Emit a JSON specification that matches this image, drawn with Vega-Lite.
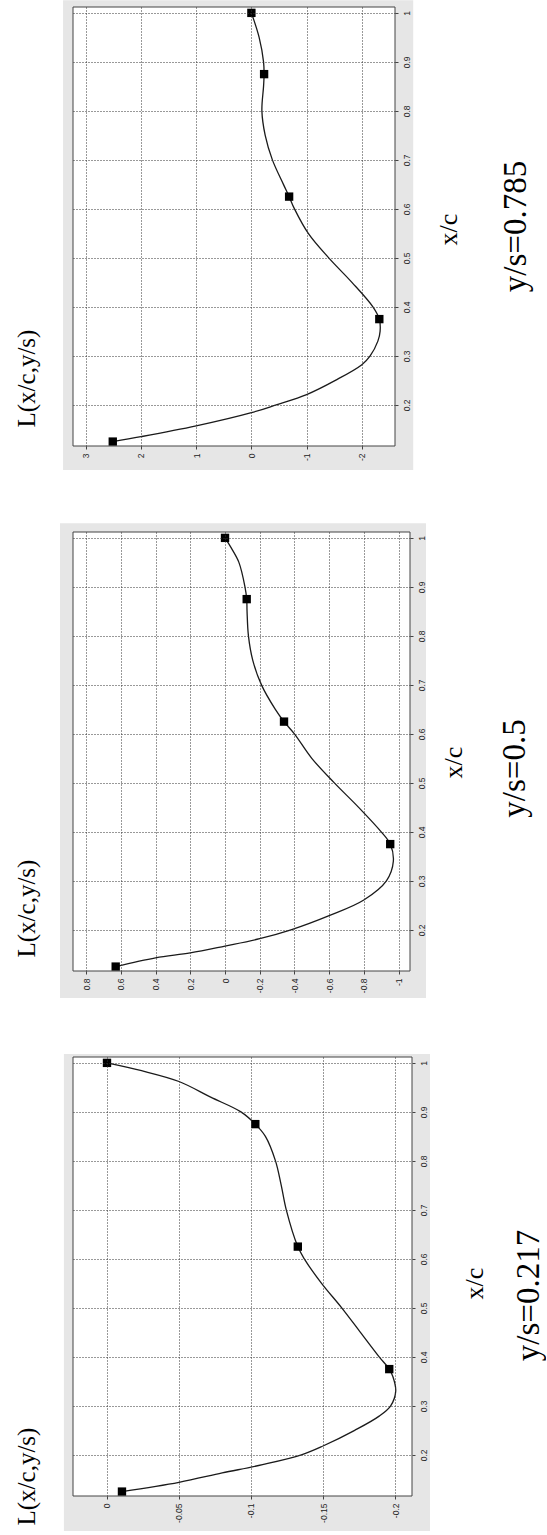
{
  "$schema": "https://vega.github.io/schema/vega-lite/v6.json",
  "background": "white",
  "padding": {"left": 14, "top": 0, "right": 0, "bottom": 0},
  "bounds": "flush",
  "spacing": 86,
  "config": {"view": {"stroke": null}, "font": "Liberation Sans"},
  "datasets": {
    "p785": [
      {"xc": 0.125, "L": 2.51, "m": true},
      {"xc": 0.135, "L": 2.0, "m": false},
      {"xc": 0.157, "L": 1.0, "m": false},
      {"xc": 0.184, "L": 0.0, "m": false},
      {"xc": 0.2, "L": -0.45, "m": false},
      {"xc": 0.221, "L": -1.0, "m": false},
      {"xc": 0.25, "L": -1.52, "m": false},
      {"xc": 0.282, "L": -2.0, "m": false},
      {"xc": 0.3, "L": -2.15, "m": false},
      {"xc": 0.33, "L": -2.29, "m": false},
      {"xc": 0.35, "L": -2.33, "m": false},
      {"xc": 0.375, "L": -2.316, "m": true},
      {"xc": 0.4, "L": -2.2, "m": false},
      {"xc": 0.45, "L": -1.82, "m": false},
      {"xc": 0.5, "L": -1.4, "m": false},
      {"xc": 0.55, "L": -1.03, "m": false},
      {"xc": 0.6, "L": -0.78, "m": false},
      {"xc": 0.625, "L": -0.683, "m": true},
      {"xc": 0.65, "L": -0.58, "m": false},
      {"xc": 0.7, "L": -0.38, "m": false},
      {"xc": 0.75, "L": -0.25, "m": false},
      {"xc": 0.8, "L": -0.19, "m": false},
      {"xc": 0.85, "L": -0.22, "m": false},
      {"xc": 0.875, "L": -0.23, "m": true},
      {"xc": 0.9, "L": -0.22, "m": false},
      {"xc": 0.95, "L": -0.14, "m": false},
      {"xc": 1.0, "L": 0.0, "m": true}
    ],
    "p500": [
      {"xc": 0.125, "L": 0.63, "m": true},
      {"xc": 0.143, "L": 0.4, "m": false},
      {"xc": 0.153, "L": 0.2, "m": false},
      {"xc": 0.167, "L": 0.0, "m": false},
      {"xc": 0.182, "L": -0.2, "m": false},
      {"xc": 0.2, "L": -0.38, "m": false},
      {"xc": 0.229, "L": -0.6, "m": false},
      {"xc": 0.261, "L": -0.8, "m": false},
      {"xc": 0.3, "L": -0.93, "m": false},
      {"xc": 0.34, "L": -0.97, "m": false},
      {"xc": 0.375, "L": -0.952, "m": true},
      {"xc": 0.4, "L": -0.9, "m": false},
      {"xc": 0.45, "L": -0.77, "m": false},
      {"xc": 0.5, "L": -0.63, "m": false},
      {"xc": 0.55, "L": -0.5, "m": false},
      {"xc": 0.6, "L": -0.4, "m": false},
      {"xc": 0.625, "L": -0.34, "m": true},
      {"xc": 0.65, "L": -0.29, "m": false},
      {"xc": 0.7, "L": -0.21, "m": false},
      {"xc": 0.75, "L": -0.16, "m": false},
      {"xc": 0.8, "L": -0.135, "m": false},
      {"xc": 0.85, "L": -0.127, "m": false},
      {"xc": 0.875, "L": -0.125, "m": true},
      {"xc": 0.9, "L": -0.115, "m": false},
      {"xc": 0.95, "L": -0.08, "m": false},
      {"xc": 0.98, "L": -0.035, "m": false},
      {"xc": 1.0, "L": 0.0, "m": true}
    ],
    "p217": [
      {"xc": 0.125, "L": -0.0104, "m": true},
      {"xc": 0.144, "L": -0.05, "m": false},
      {"xc": 0.163, "L": -0.08, "m": false},
      {"xc": 0.18, "L": -0.108, "m": false},
      {"xc": 0.2, "L": -0.135, "m": false},
      {"xc": 0.218, "L": -0.15, "m": false},
      {"xc": 0.25, "L": -0.172, "m": false},
      {"xc": 0.279, "L": -0.189, "m": false},
      {"xc": 0.3, "L": -0.197, "m": false},
      {"xc": 0.33, "L": -0.2005, "m": false},
      {"xc": 0.36, "L": -0.1985, "m": false},
      {"xc": 0.375, "L": -0.196, "m": true},
      {"xc": 0.4, "L": -0.189, "m": false},
      {"xc": 0.45, "L": -0.176, "m": false},
      {"xc": 0.5, "L": -0.163, "m": false},
      {"xc": 0.55, "L": -0.149, "m": false},
      {"xc": 0.6, "L": -0.137, "m": false},
      {"xc": 0.625, "L": -0.1325, "m": true},
      {"xc": 0.7, "L": -0.1245, "m": false},
      {"xc": 0.75, "L": -0.121, "m": false},
      {"xc": 0.8, "L": -0.117, "m": false},
      {"xc": 0.85, "L": -0.11, "m": false},
      {"xc": 0.875, "L": -0.103, "m": true},
      {"xc": 0.9, "L": -0.093, "m": false},
      {"xc": 0.93, "L": -0.072, "m": false},
      {"xc": 0.962, "L": -0.05, "m": false},
      {"xc": 0.984, "L": -0.024, "m": false},
      {"xc": 1.0, "L": 0.0, "m": true}
    ]
  },
  "vconcat": [
    {
      "width": 322, "height": 439,
      "title": {"text": "y/s=0.785", "orient": "right", "angle": 270, "anchor": "middle", "frame": "group", "baseline": "top", "font": "Liberation Serif", "fontSize": 33, "fontWeight": "normal", "color": "#000", "offset": 6, "dx": 0},
      "resolve": {"axis": {"y": "independent"}},
      "layer": [
        {
          "data": {"values": [{}]},
          "mark": {"type": "rect", "color": "#e6e6e6"},
          "encoding": {
            "x": {"datum": 3.41, "type": "quantitative", "scale": {"domain": [-2.6, 3.23], "reverse": true, "nice": false, "zero": false},
              "axis": {"orient": "bottom", "values": [3, 2, 1, 0, -1, -2], "tickCount": 30, "labelExpr": "'' + datum.value", "labelOverlap": false, "labelBound": false, "labelAngle": 270, "labelAlign": "right", "labelBaseline": "middle", "labelFontSize": 8.5, "labelColor": "#222", "labelPadding": 4, "tickSize": 3, "tickColor": "#444", "domain": false, "grid": true, "gridColor": "#333", "gridDash": [1, 2], "gridWidth": 1, "title": null, "zindex": 1}},
            "x2": {"datum": -2.93},
            "y": {"datum": 1.026, "type": "quantitative", "scale": {"domain": [0.116, 1.012], "nice": false, "zero": false},
              "axis": {"orient": "right", "values": [0.2, 0.3, 0.4, 0.5, 0.6, 0.7, 0.8, 0.9, 1], "tickCount": 30, "labelExpr": "'' + datum.value", "labelOverlap": false, "labelBound": false, "labelAngle": 270, "labelAlign": "center", "labelBaseline": "top", "labelFontSize": 8.5, "labelColor": "#222", "labelPadding": 4, "tickSize": 3, "tickColor": "#444", "domain": false, "grid": true, "gridColor": "#333", "gridDash": [1, 2], "gridWidth": 1, "title": "x/c", "titleFont": "Liberation Serif", "titleFontSize": 26, "titleFontWeight": "normal", "titleColor": "#000", "titleAngle": 270, "titleAlign": "center", "titleBaseline": "alphabetic", "titleX": 61, "titleY": 222, "zindex": 1}},
            "y2": {"datum": 0.067}
          }
        },
        {
          "data": {"values": [{}]},
          "mark": {"type": "rect", "color": "white"},
          "encoding": {
            "x": {"datum": 3.23, "type": "quantitative"},
            "x2": {"datum": -2.6},
            "y": {"datum": 1.012, "type": "quantitative",
              "axis": {"orient": "left", "labels": false, "ticks": false, "domain": false, "grid": false, "title": "L(x/c,y/s)", "titleFont": "Liberation Serif", "titleFontSize": 25, "titleFontWeight": "normal", "titleColor": "#000", "titleAngle": 270, "titleAlign": "left", "titleBaseline": "alphabetic", "titleX": -39, "titleY": 420}},
            "y2": {"datum": 0.116}
          }
        },
        {
          "data": {"name": "p785"},
          "mark": {"type": "line", "color": "#1a1a1a", "strokeWidth": 1.3, "interpolate": "catmull-rom"},
          "encoding": {
            "x": {"field": "L", "type": "quantitative"},
            "y": {"field": "xc", "type": "quantitative", "axis": null},
            "order": {"field": "xc", "type": "quantitative"}
          }
        },
        {
          "data": {"name": "p785"},
          "transform": [{"filter": "datum.m"}],
          "mark": {"type": "square", "color": "#000", "size": 70, "opacity": 1},
          "encoding": {
            "x": {"field": "L", "type": "quantitative"},
            "y": {"field": "xc", "type": "quantitative", "axis": null}
          }
        },
        {
          "data": {"values": [{}]},
          "mark": {"type": "rect", "filled": false, "stroke": "#444", "strokeWidth": 1},
          "encoding": {
            "x": {"datum": 3.23, "type": "quantitative"},
            "x2": {"datum": -2.6},
            "y": {"datum": 1.012, "type": "quantitative", "axis": null},
            "y2": {"datum": 0.116}
          }
        }
      ]
    },
    {
      "width": 337, "height": 439,
      "title": {"text": "y/s=0.5", "orient": "right", "angle": 270, "anchor": "middle", "frame": "group", "baseline": "top", "font": "Liberation Serif", "fontSize": 33, "fontWeight": "normal", "color": "#000", "offset": 0, "dx": -17},
      "resolve": {"axis": {"y": "independent"}},
      "layer": [
        {
          "data": {"values": [{}]},
          "mark": {"type": "rect", "color": "#e6e6e6"},
          "encoding": {
            "x": {"datum": 0.951, "type": "quantitative", "scale": {"domain": [-1.066, 0.876], "reverse": true, "nice": false, "zero": false},
              "axis": {"orient": "bottom", "values": [0.8, 0.6, 0.4, 0.2, 0, -0.2, -0.4, -0.6, -0.8, -1], "tickCount": 30, "labelExpr": "'' + datum.value", "labelOverlap": false, "labelBound": false, "labelAngle": 270, "labelAlign": "right", "labelBaseline": "middle", "labelFontSize": 8.5, "labelColor": "#222", "labelPadding": 4, "tickSize": 3, "tickColor": "#444", "domain": false, "grid": true, "gridColor": "#333", "gridDash": [1, 2], "gridWidth": 1, "title": null, "zindex": 1}},
            "x2": {"datum": -1.158},
            "y": {"datum": 1.03, "type": "quantitative", "scale": {"domain": [0.116, 1.012], "nice": false, "zero": false},
              "axis": {"orient": "right", "values": [0.2, 0.3, 0.4, 0.5, 0.6, 0.7, 0.8, 0.9, 1], "tickCount": 30, "labelExpr": "'' + datum.value", "labelOverlap": false, "labelBound": false, "labelAngle": 270, "labelAlign": "center", "labelBaseline": "top", "labelFontSize": 8.5, "labelColor": "#222", "labelPadding": 4, "tickSize": 3, "tickColor": "#444", "domain": false, "grid": true, "gridColor": "#333", "gridDash": [1, 2], "gridWidth": 1, "title": "x/c", "titleFont": "Liberation Serif", "titleFontSize": 26, "titleFontWeight": "normal", "titleColor": "#000", "titleAngle": 270, "titleAlign": "center", "titleBaseline": "alphabetic", "titleX": 51, "titleY": 230, "zindex": 1}},
            "y2": {"datum": 0.061}
          }
        },
        {
          "data": {"values": [{}]},
          "mark": {"type": "rect", "color": "white"},
          "encoding": {
            "x": {"datum": 0.876, "type": "quantitative"},
            "x2": {"datum": -1.066},
            "y": {"datum": 1.012, "type": "quantitative",
              "axis": {"orient": "left", "labels": false, "ticks": false, "domain": false, "grid": false, "title": "L(x/c,y/s)", "titleFont": "Liberation Serif", "titleFontSize": 25, "titleFontWeight": "normal", "titleColor": "#000", "titleAngle": 270, "titleAlign": "left", "titleBaseline": "alphabetic", "titleX": -39, "titleY": 425}},
            "y2": {"datum": 0.116}
          }
        },
        {
          "data": {"name": "p500"},
          "mark": {"type": "line", "color": "#1a1a1a", "strokeWidth": 1.3, "interpolate": "catmull-rom"},
          "encoding": {
            "x": {"field": "L", "type": "quantitative"},
            "y": {"field": "xc", "type": "quantitative", "axis": null},
            "order": {"field": "xc", "type": "quantitative"}
          }
        },
        {
          "data": {"name": "p500"},
          "transform": [{"filter": "datum.m"}],
          "mark": {"type": "square", "color": "#000", "size": 70, "opacity": 1},
          "encoding": {
            "x": {"field": "L", "type": "quantitative"},
            "y": {"field": "xc", "type": "quantitative", "axis": null}
          }
        },
        {
          "data": {"values": [{}]},
          "mark": {"type": "rect", "filled": false, "stroke": "#444", "strokeWidth": 1},
          "encoding": {
            "x": {"datum": 0.876, "type": "quantitative"},
            "x2": {"datum": -1.066},
            "y": {"datum": 1.012, "type": "quantitative", "axis": null},
            "y2": {"datum": 0.116}
          }
        }
      ]
    },
    {
      "width": 339, "height": 439,
      "title": {"text": "y/s=0.217", "orient": "right", "angle": 270, "anchor": "middle", "frame": "group", "baseline": "top", "font": "Liberation Serif", "fontSize": 33, "fontWeight": "normal", "color": "#000", "offset": -7, "dx": -19},
      "resolve": {"axis": {"y": "independent"}},
      "layer": [
        {
          "data": {"values": [{}]},
          "mark": {"type": "rect", "color": "#e6e6e6"},
          "encoding": {
            "x": {"datum": 0.0299, "type": "quantitative", "scale": {"domain": [-0.2118, 0.0236], "reverse": true, "nice": false, "zero": false},
              "axis": {"orient": "bottom", "values": [0, -0.05, -0.1, -0.15, -0.2], "tickCount": 30, "labelExpr": "'' + datum.value", "labelOverlap": false, "labelBound": false, "labelAngle": 270, "labelAlign": "right", "labelBaseline": "middle", "labelFontSize": 8.5, "labelColor": "#222", "labelPadding": 4, "tickSize": 3, "tickColor": "#444", "domain": false, "grid": true, "gridColor": "#333", "gridDash": [1, 2], "gridWidth": 1, "title": null, "zindex": 1}},
            "x2": {"datum": -0.2243},
            "y": {"datum": 1.018, "type": "quantitative", "scale": {"domain": [0.116, 1.012], "nice": false, "zero": false},
              "axis": {"orient": "right", "values": [0.2, 0.3, 0.4, 0.5, 0.6, 0.7, 0.8, 0.9, 1], "tickCount": 30, "labelExpr": "'' + datum.value", "labelOverlap": false, "labelBound": false, "labelAngle": 270, "labelAlign": "center", "labelBaseline": "top", "labelFontSize": 8.5, "labelColor": "#222", "labelPadding": 4, "tickSize": 3, "tickColor": "#444", "domain": false, "grid": true, "gridColor": "#333", "gridDash": [1, 2], "gridWidth": 1, "title": "x/c", "titleFont": "Liberation Serif", "titleFontSize": 26, "titleFontWeight": "normal", "titleColor": "#000", "titleAngle": 270, "titleAlign": "center", "titleBaseline": "alphabetic", "titleX": 70, "titleY": 226, "zindex": 1}},
            "y2": {"datum": 0.0446}
          }
        },
        {
          "data": {"values": [{}]},
          "mark": {"type": "rect", "color": "white"},
          "encoding": {
            "x": {"datum": 0.0236, "type": "quantitative"},
            "x2": {"datum": -0.2118},
            "y": {"datum": 1.012, "type": "quantitative",
              "axis": {"orient": "left", "labels": false, "ticks": false, "domain": false, "grid": false, "title": "L(x/c,y/s)", "titleFont": "Liberation Serif", "titleFontSize": 25, "titleFontWeight": "normal", "titleColor": "#000", "titleAngle": 270, "titleAlign": "left", "titleBaseline": "alphabetic", "titleX": -39, "titleY": 468}},
            "y2": {"datum": 0.116}
          }
        },
        {
          "data": {"name": "p217"},
          "mark": {"type": "line", "color": "#1a1a1a", "strokeWidth": 1.3, "interpolate": "catmull-rom"},
          "encoding": {
            "x": {"field": "L", "type": "quantitative"},
            "y": {"field": "xc", "type": "quantitative", "axis": null},
            "order": {"field": "xc", "type": "quantitative"}
          }
        },
        {
          "data": {"name": "p217"},
          "transform": [{"filter": "datum.m"}],
          "mark": {"type": "square", "color": "#000", "size": 70, "opacity": 1},
          "encoding": {
            "x": {"field": "L", "type": "quantitative"},
            "y": {"field": "xc", "type": "quantitative", "axis": null}
          }
        },
        {
          "data": {"values": [{}]},
          "mark": {"type": "rect", "filled": false, "stroke": "#444", "strokeWidth": 1},
          "encoding": {
            "x": {"datum": 0.0236, "type": "quantitative"},
            "x2": {"datum": -0.2118},
            "y": {"datum": 1.012, "type": "quantitative", "axis": null},
            "y2": {"datum": 0.116}
          }
        }
      ]
    }
  ]
}
